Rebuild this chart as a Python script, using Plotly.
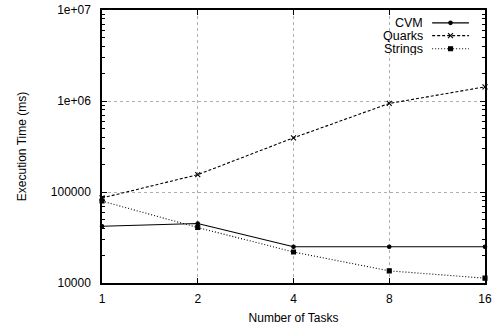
import plotly.graph_objects as go

tasks = [1, 2, 4, 8, 16]
cvm = [42000, 45000, 25000, 25000, 25000]
quarks = [86000, 155000, 394000, 940000, 1430000]
strings = [79500, 40700, 21900, 13600, 11300]

series_names = ["CVM", "Quarks", "Strings"]
x_ticks = [1, 2, 4, 8, 16]
y_ticks = [1e4, 1e5, 1e6, 1e7]
y_tick_text = ["10000", "100000", "1e+06", "1e+07"]

FONT = "Liberation Sans, Arial, sans-serif"
styles = [
    dict(dash="solid", symbol="circle", size=3.5),
    dict(dash="3px,2px", symbol="x-thin", size=5),
    dict(dash="1px,2px", symbol="square", size=4),
]

fig = go.Figure()
for name, vals, st in zip(series_names, [cvm, quarks, strings], styles):
    fig.add_trace(go.Scatter(
        x=tasks, y=vals, mode="lines+markers", name=name, showlegend=False,
        line=dict(color="black", width=1.1, dash=st["dash"]),
        marker=dict(color="black", symbol=st["symbol"], size=st["size"],
                    line=dict(color="black", width=1.1)),
        cliponaxis=False,
    ))

# key box in the upper right: label, sample line and marker per series
key_y = [0.953, 0.906, 0.858]
for name, st, ky in zip(series_names, styles, key_y):
    fig.add_annotation(x=0.841, y=ky, xref="paper", yref="paper", text=name,
                       showarrow=False, xanchor="right", yanchor="middle", borderpad=0,
                       height=12, valign="middle",
                       font=dict(family=FONT, size=12.5, color="black"))
    fig.add_shape(type="line", xref="paper", yref="paper", x0=0.862, x1=0.958,
                  y0=ky, y1=ky, line=dict(color="black", width=1.1, dash=st["dash"]))
    fig.add_trace(go.Scatter(
        x=[0.91], y=[ky], xaxis="x2", yaxis="y2", mode="markers", showlegend=False,
        marker=dict(color="black", symbol=st["symbol"], size=st["size"],
                    line=dict(color="black", width=1.1)),
        hoverinfo="skip",
    ))

fig.update_layout(
    width=499, height=328,
    margin=dict(l=102, r=14, t=10, b=45),
    plot_bgcolor="white", paper_bgcolor="white",
    font=dict(family=FONT, size=12, color="black"),
    xaxis=dict(
        type="log", range=[0, 1.20412], tickvals=x_ticks, ticktext=[str(v) for v in x_ticks],
        showgrid=True, gridcolor="#b0b0b0", griddash="dot", gridwidth=1,
        showline=True, linecolor="black", linewidth=1.5, mirror="ticks",
        ticks="inside", ticklen=5, tickcolor="black", ticklabelstandoff=4,
        title=dict(text="Number of Tasks", font=dict(size=12), standoff=8),
        zeroline=False, automargin=False,
    ),
    yaxis=dict(
        type="log", range=[4, 7], tickvals=y_ticks, ticktext=y_tick_text,
        showgrid=True, gridcolor="#b0b0b0", griddash="dot", gridwidth=1,
        showline=True, linecolor="black", linewidth=1.5, mirror="ticks",
        ticks="inside", ticklen=5, tickcolor="black", ticklabelstandoff=7,
        minor=dict(ticks="inside", ticklen=3, tickcolor="black", showgrid=False,
                   tickvals=[m * 10 ** e for e in range(4, 7) for m in range(2, 10)]),
        title=dict(text="Execution Time (ms)", font=dict(size=12), standoff=22),
        zeroline=False, automargin=False,
    ),
    xaxis2=dict(overlaying="x", range=[0, 1], visible=False, fixedrange=True),
    yaxis2=dict(overlaying="y", range=[0, 1], visible=False, fixedrange=True),
)

fig.write_html("out.html")
